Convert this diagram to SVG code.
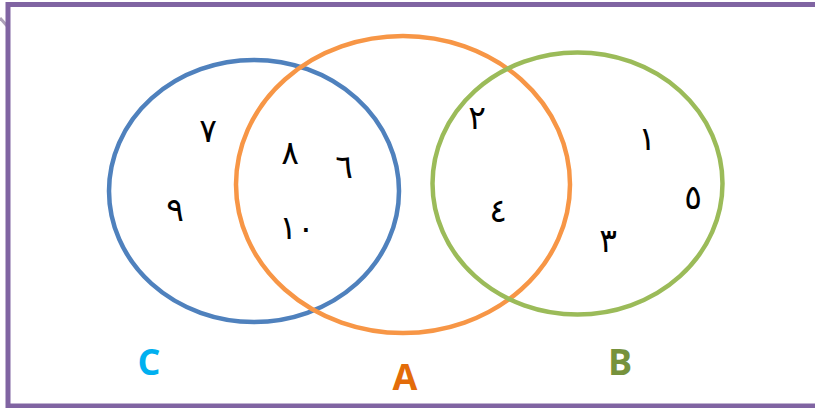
<svg xmlns="http://www.w3.org/2000/svg" width="815" height="408" viewBox="0 0 815 408">
<style>
.num{font-family:"DejaVu Sans","Noto Sans",sans-serif;font-size:33px;fill:#000;text-anchor:middle;dominant-baseline:central}
.lbl{font-family:"Open Sans","Liberation Sans",sans-serif;font-weight:bold;font-size:36px;text-anchor:middle;dominant-baseline:central}
.set{fill:none;stroke-width:4.5}
</style>
<rect width="815" height="408" fill="#fff"/>
<g id="frame">
<line x1="0" y1="18" x2="8" y2="27" stroke="#8a7a9a" stroke-width="3" opacity="0.7"/>
<rect x="8" y="4.5" width="820" height="401.5" fill="none" stroke="#8064A2" stroke-width="5"/>
</g>
<g id="set-C">
<ellipse class="set" cx="254" cy="191" rx="145" ry="131" stroke="#4F81BD"/>
<text class="lbl" x="149" y="361" fill="#00B0F0">C</text>
</g>
<g id="set-A">
<ellipse class="set" cx="403" cy="184.5" rx="167" ry="148.5" stroke="#F79646"/>
<text class="lbl" x="405" y="376" fill="#E36C09">A</text>
</g>
<g id="set-B">
<ellipse class="set" cx="577.5" cy="183.5" rx="145" ry="131" stroke="#9BBB59"/>
<text class="lbl" x="620" y="361" fill="#76923C">B</text>
</g>
<g id="elements">
<text class="num" x="208" y="130">٧</text>
<text class="num" x="290" y="152">٨</text>
<text class="num" x="344" y="166">٦</text>
<text class="num" x="175" y="209">٩</text>
<text class="num" x="297" y="227">١٠</text>
<text class="num" x="477" y="117">٢</text>
<text class="num" x="498" y="210">٤</text>
<text class="num" x="647" y="138">١</text>
<text class="num" x="693" y="197">٥</text>
<text class="num" x="608" y="240">٣</text>
</g>
</svg>
